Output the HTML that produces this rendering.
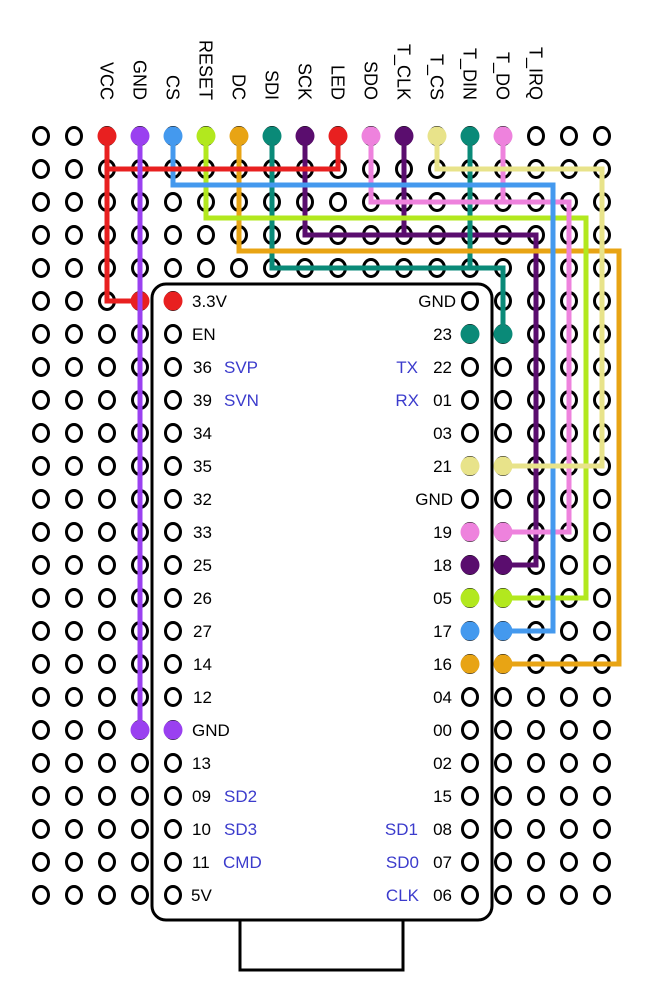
<!DOCTYPE html>
<html><head><style>html,body{margin:0;padding:0;background:#fff}svg{display:block}</style></head><body>
<svg width="650" height="1000" viewBox="0 0 650 1000" xmlns="http://www.w3.org/2000/svg" font-family="Liberation Sans, sans-serif">
<defs>
<pattern id="h" patternUnits="userSpaceOnUse" x="24.5" y="119.5" width="33" height="33">
<ellipse cx="16.5" cy="16.5" rx="7.5" ry="8.5" fill="#fff" stroke="#000" stroke-width="3"/>
</pattern>
</defs>
<rect x="24.5" y="119.5" width="594" height="792" fill="url(#h)"/>
<!-- headers -->
<g font-size="18" fill="#000" text-anchor="end">
<text transform="translate(100.5,100) rotate(90)">VCC</text>
<text transform="translate(133.5,100) rotate(90)">GND</text>
<text transform="translate(166.5,100) rotate(90)">CS</text>
<text transform="translate(199.5,100) rotate(90)">RESET</text>
<text transform="translate(232.5,100) rotate(90)">DC</text>
<text transform="translate(265.5,100) rotate(90)">SDI</text>
<text transform="translate(298.5,100) rotate(90)">SCK</text>
<text transform="translate(331.5,100) rotate(90)">LED</text>
<text transform="translate(364.5,100) rotate(90)">SDO</text>
<text transform="translate(397.5,100) rotate(90)">T_CLK</text>
<text transform="translate(430.5,100) rotate(90)">T_CS</text>
<text transform="translate(463.5,100) rotate(90)">T_DIN</text>
<text transform="translate(496.5,100) rotate(90)">T_DO</text>
<text transform="translate(529.5,100) rotate(90)">T_IRQ</text>
</g>
<!-- board -->
<rect x="152" y="284" width="340" height="636" rx="14" fill="#fff" stroke="#000" stroke-width="3"/>
<rect x="240" y="920" width="163" height="50" fill="#fff" stroke="#000" stroke-width="3"/>
<rect x="156.5" y="284.5" width="33" height="627" fill="url(#h)"/>
<rect x="453.5" y="284.5" width="33" height="627" fill="url(#h)"/>
<!-- wires -->
<g fill="none" stroke-width="5" stroke-linejoin="miter" stroke-linecap="butt">
<polyline stroke="#5a0d6e" points="305,136 305,235 536,235 536,565 503,565"/>
<line stroke="#5a0d6e" x1="404" y1="136" x2="404" y2="235"/>
<polyline stroke="#0a8a78" points="272,136 272,268 503,268 503,334"/>
<line stroke="#0a8a78" x1="470" y1="136" x2="470" y2="268"/>
<polyline stroke="#e8a414" points="239,136 239,251 619,251 619,664 503,664"/>
<polyline stroke="#b2e81e" points="206,136 206,218 586,218 586,598 503,598"/>
<polyline stroke="#ee82dd" points="371,136 371,202 569,202 569,532 503,532"/>
<line stroke="#ee82dd" x1="503" y1="136" x2="503" y2="202"/>
<polyline stroke="#4499ee" points="173,136 173,185 553,185 553,631 503,631"/>
<polyline stroke="#e8e38a" points="437,136 437,169 602,169 602,466 503,466"/>
<polyline stroke="#e82020" points="338,136 338,169 107,169"/>
<polyline stroke="#e82020" points="107,136 107,301 140,301"/>
<line stroke="#9a40f0" x1="140" y1="136" x2="140" y2="730"/>
</g>
<!-- dots -->
<g>
<circle cx="107" cy="136" r="9.5" fill="#e82020"/>
<circle cx="140" cy="136" r="9.5" fill="#9a40f0"/>
<circle cx="173" cy="136" r="9.5" fill="#4499ee"/>
<circle cx="206" cy="136" r="9.5" fill="#b2e81e"/>
<circle cx="239" cy="136" r="9.5" fill="#e8a414"/>
<circle cx="272" cy="136" r="9.5" fill="#0a8a78"/>
<circle cx="305" cy="136" r="9.5" fill="#5a0d6e"/>
<circle cx="338" cy="136" r="9.5" fill="#e82020"/>
<circle cx="371" cy="136" r="9.5" fill="#ee82dd"/>
<circle cx="404" cy="136" r="9.5" fill="#5a0d6e"/>
<circle cx="437" cy="136" r="9.5" fill="#e8e38a"/>
<circle cx="470" cy="136" r="9.5" fill="#0a8a78"/>
<circle cx="503" cy="136" r="9.5" fill="#ee82dd"/>
<circle cx="140" cy="301" r="9.5" fill="#e82020"/>
<rect x="137.5" y="290" width="5" height="22" fill="#9a40f0"/>
<circle cx="173" cy="301" r="9.5" fill="#e82020"/>
<circle cx="140" cy="730" r="9.5" fill="#9a40f0"/>
<circle cx="173" cy="730" r="9.5" fill="#9a40f0"/>
<circle cx="470" cy="334" r="9.5" fill="#0a8a78"/><circle cx="503" cy="334" r="9.5" fill="#0a8a78"/>
<circle cx="470" cy="466" r="9.5" fill="#e8e38a"/><circle cx="503" cy="466" r="9.5" fill="#e8e38a"/>
<circle cx="470" cy="532" r="9.5" fill="#ee82dd"/><circle cx="503" cy="532" r="9.5" fill="#ee82dd"/>
<circle cx="470" cy="565" r="9.5" fill="#5a0d6e"/><circle cx="503" cy="565" r="9.5" fill="#5a0d6e"/>
<circle cx="470" cy="598" r="9.5" fill="#b2e81e"/><circle cx="503" cy="598" r="9.5" fill="#b2e81e"/>
<circle cx="470" cy="631" r="9.5" fill="#4499ee"/><circle cx="503" cy="631" r="9.5" fill="#4499ee"/>
<circle cx="470" cy="664" r="9.5" fill="#e8a414"/><circle cx="503" cy="664" r="9.5" fill="#e8a414"/>
</g>
<!-- left labels -->
<g font-size="17" fill="#000">
<text x="192" y="307">3.3V</text>
<text x="192" y="340">EN</text>
<text x="193" y="373">36</text>
<text x="193" y="406">39</text>
<text x="193" y="439">34</text>
<text x="193" y="472">35</text>
<text x="193" y="505">32</text>
<text x="193" y="538">33</text>
<text x="193" y="571">25</text>
<text x="193" y="604">26</text>
<text x="193" y="637">27</text>
<text x="193" y="670">14</text>
<text x="193" y="703">12</text>
<text x="192" y="736">GND</text>
<text x="192" y="769">13</text>
<text x="192" y="802">09</text>
<text x="192" y="835">10</text>
<text x="192" y="868">11</text>
<text x="191" y="901">5V</text>
</g>
<g font-size="17" fill="#3b3bcc">
<text x="224" y="373">SVP</text>
<text x="224" y="406">SVN</text>
<text x="224" y="802">SD2</text>
<text x="224" y="835">SD3</text>
<text x="223" y="868">CMD</text>
</g>
<g font-size="17" fill="#000" text-anchor="end">
<text x="456" y="307">GND</text>
<text x="452" y="340">23</text>
<text x="452" y="373">22</text>
<text x="452" y="406">01</text>
<text x="452" y="439">03</text>
<text x="452" y="472">21</text>
<text x="453" y="505">GND</text>
<text x="452" y="538">19</text>
<text x="452" y="571">18</text>
<text x="452" y="604">05</text>
<text x="452" y="637">17</text>
<text x="452" y="670">16</text>
<text x="452" y="703">04</text>
<text x="452" y="736">00</text>
<text x="452" y="769">02</text>
<text x="452" y="802">15</text>
<text x="452" y="835">08</text>
<text x="452" y="868">07</text>
<text x="452" y="901">06</text>
</g>
<g font-size="17" fill="#3b3bcc" text-anchor="end">
<text x="418" y="373">TX</text>
<text x="419" y="406">RX</text>
<text x="418" y="835">SD1</text>
<text x="419" y="868">SD0</text>
<text x="419" y="901">CLK</text>
</g>
</svg>
</body></html>
